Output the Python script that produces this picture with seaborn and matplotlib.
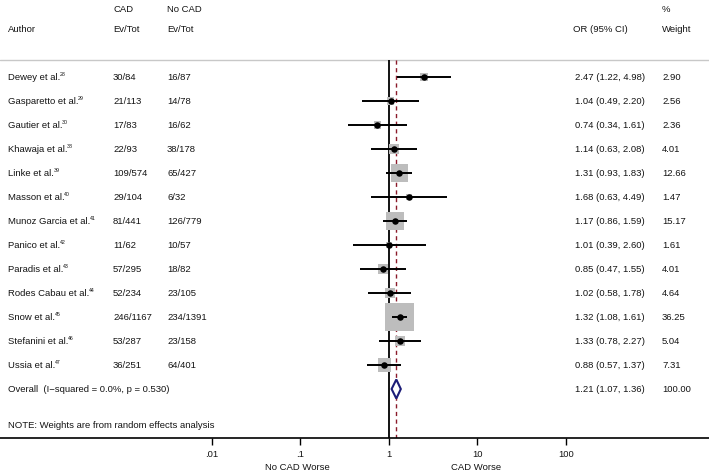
import numpy as np
import pandas as pd
import matplotlib
matplotlib.use("Agg")
import matplotlib.pyplot as plt
import seaborn as sns

authors = ["Dewey et al.", "Gasparetto et al.", "Gautier et al.", "Khawaja et al.",
           "Linke et al.", "Masson et al.", "Munoz Garcia et al.", "Panico et al.",
           "Paradis et al.", "Rodes Cabau et al.", "Snow et al.", "Stefanini et al.",
           "Ussia et al."]
refs = ["28", "29", "30", "38", "39", "40", "41", "42", "43", "44", "45", "46", "47"]
cad = ["30/84", "21/113", "17/83", "22/93", "109/574", "29/104", "81/441", "11/62",
       "57/295", "52/234", "246/1167", "53/287", "36/251"]
nocad = ["16/87", "14/78", "16/62", "38/178", "65/427", "6/32", "126/779", "10/57",
         "18/82", "23/105", "234/1391", "23/158", "64/401"]
odds = [2.47, 1.04, 0.74, 1.14, 1.31, 1.68, 1.17, 1.01, 0.85, 1.02, 1.32, 1.33, 0.88]
lo = [1.22, 0.49, 0.34, 0.63, 0.93, 0.63, 0.86, 0.39, 0.47, 0.58, 1.08, 0.78, 0.57]
hi = [4.98, 2.20, 1.61, 2.08, 1.83, 4.49, 1.59, 2.60, 1.55, 1.78, 1.61, 2.27, 1.37]
weight = [2.90, 2.56, 2.36, 4.01, 12.66, 1.47, 15.17, 1.61, 4.01, 4.64, 36.25, 5.04, 7.31]
overall_or, overall_lo, overall_hi = 1.21, 1.07, 1.36
overall_label = "Overall  (I\u2212squared = 0.0%, p = 0.530)"
xticks = [0.01, 0.1, 1, 10, 100]
xticklabels = [".01", ".1", "1", "10", "100"]

df = pd.DataFrame({"author": authors, "or": odds, "lo": lo, "hi": hi,
                   "weight": weight})
df["row"] = np.arange(len(df))
overall_row = len(df)

sns.set_style("white")
plt.rcParams["font.family"] = ["Liberation Sans", "DejaVu Sans"]

W, H = 709, 474
fig = plt.figure(figsize=(W / 100, H / 100), dpi=100)
axis_px = 437.5
ax = fig.add_axes([0, (H - axis_px) / H, 1, axis_px / H])

r0, step = 77.0, 24.0
def prow(p):
    return (p - r0) / step

ax.set_xscale("log")
dec = 88.5
ax.set_xlim(10 ** (-389 / dec), 10 ** ((W - 389) / dec))
ax.set_ylim(prow(axis_px), prow(0))

txt = "#141414"
fs = 6.8

sep = prow(59.5)
ax.axhline(sep, color="#c8c8c8", lw=1.0, zorder=1)
ax.vlines(1, sep, prow(axis_px), color="black", lw=1.3, zorder=2)
ax.vlines(overall_or, sep, prow(axis_px), color="#8b1a2a", lw=1.0,
          linestyles=(0, (3, 2.5)), zorder=2)

smax = (29 / 1.389) ** 2
sns.scatterplot(data=df, x="or", y="row", size="weight", sizes=(0, smax),
                size_norm=(0, max(weight)), marker="s", color="#bdbdbd",
                linewidth=0, legend=False, ax=ax, zorder=3)
ax.hlines(df["row"], df["lo"], df["hi"], color="black", lw=1.4, zorder=4)
sns.scatterplot(data=df, x="or", y="row", s=22, color="black", linewidth=0,
                legend=False, ax=ax, zorder=5)

hh = 9.5 / step
ax.fill([overall_lo, overall_or, overall_hi, overall_or],
        [overall_row, overall_row - hh, overall_row, overall_row + hh],
        facecolor="white", edgecolor="#1c1c78", lw=1.5, zorder=5)

for s in ["top", "left", "right"]:
    ax.spines[s].set_visible(False)
ax.spines["bottom"].set_color("black")
ax.spines["bottom"].set_linewidth(1.2)
ax.set_xticks(xticks)
ax.set_xticklabels(xticklabels, fontsize=fs, color=txt)
ax.xaxis.set_minor_locator(matplotlib.ticker.NullLocator())
ax.tick_params(axis="x", direction="out", length=5, width=1, color="black",
               pad=4, bottom=True)
ax.set_yticks([])
ax.set_xlabel("")
ax.set_ylabel("")

tr = ax.get_yaxis_transform()
def col(px):
    return px / W

def put(x, y, s):
    return ax.text(col(x), y, s, transform=tr, fontsize=fs, color=txt, va="center")

hy1, hy2 = prow(10), prow(30)
put(113, hy1, "CAD")
put(167, hy1, "No CAD")
put(662, hy1, "%")
put(8, hy2, "Author")
put(113, hy2, "Ev/Tot")
put(167, hy2, "Ev/Tot")
put(573, hy2, "OR (95% CI)")
put(662, hy2, "Weight")

name_texts = []
for i in range(len(df)):
    name_texts.append(put(8, i, authors[i]))
    put(113, i, cad[i])
    put(167, i, nocad[i])
    put(575, i, f"{odds[i]:.2f} ({lo[i]:.2f}, {hi[i]:.2f})")
    put(662, i, f"{weight[i]:.2f}")

# superscript references placed right after author names
fig.canvas.draw()
renderer = fig.canvas.get_renderer()
for i, t in enumerate(name_texts):
    bb = t.get_window_extent(renderer)
    xa = ax.transAxes.inverted().transform((bb.x1 - 0.5, 0))[0]
    ax.text(xa, i - 0.11, refs[i], transform=tr, fontsize=fs * 0.55,
            color=txt, va="center")

put(8, overall_row, overall_label)
put(575, overall_row, f"{overall_or:.2f} ({overall_lo:.2f}, {overall_hi:.2f})")
put(662, overall_row, "100.00")
put(8, prow(426), "NOTE: Weights are from random effects analysis")

fig.text(297 / W, 1 - 467 / H, "No CAD Worse", fontsize=fs, color=txt,
         ha="center", va="center")
fig.text(476 / W, 1 - 467 / H, "CAD Worse", fontsize=fs, color=txt,
         ha="center", va="center")

fig.savefig("out.png", dpi=100)
